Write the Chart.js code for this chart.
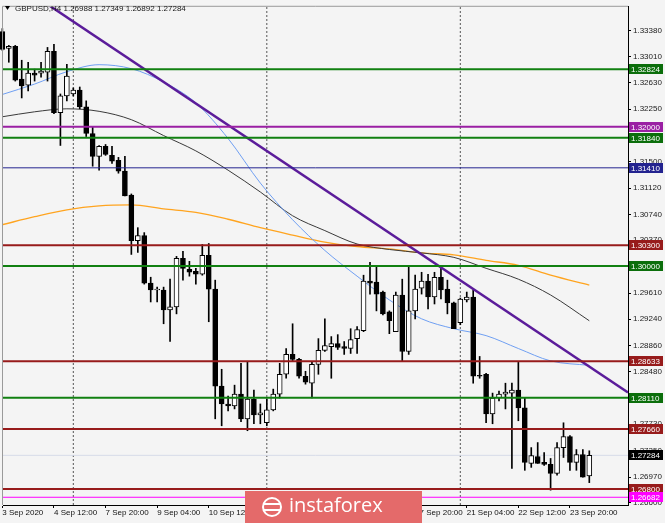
<!DOCTYPE html>
<html>
<head>
<meta charset="utf-8">
<script src="https://cdn.jsdelivr.net/npm/chart.js@4.4.1/dist/chart.umd.min.js"></script>
<style>
  html, body { margin: 0; padding: 0; background: #f4f4f4; }
  canvas { display: block; }
</style>
</head>
<body>
<canvas id="chart" width="665" height="523"></canvas>
<script>
// H4 bars, index 0 = 3 Sep 2020 04:00, last = 24 Sep 08:00
const opens = [
  1.33366, 1.33124, 1.33153, 1.32683, 1.32598, 1.32769, 1.32769, 1.32783, 1.33081, 1.32200,
  1.32442, 1.32470, 1.32527, 1.32285, 1.31902, 1.31575, 1.31717, 1.31589, 1.31518, 1.31362,
  1.31020, 1.30366, 1.30437, 1.29755, 1.29656, 1.29656, 1.29371, 1.29414, 1.30111, 1.29954,
  1.29926, 1.29883, 1.30153, 1.29670, 1.28277, 1.28021, 1.27993, 1.28163, 1.27808, 1.28092,
  1.27865, 1.27751, 1.27936, 1.28163, 1.28447, 1.28732, 1.28661, 1.28419, 1.28319, 1.28590,
  1.28789, 1.28845, 1.28888, 1.28845, 1.28817, 1.28959, 1.29073, 1.29784, 1.29769, 1.29627,
  1.29343, 1.29059, 1.29584, 1.28774, 1.29357, 1.29684, 1.29784, 1.29556, 1.29840, 1.29670,
  1.29471, 1.29186, 1.29513, 1.29556, 1.28433, 1.28447, 1.27879, 1.28106, 1.28163, 1.28177,
  1.28220, 1.27964, 1.27168, 1.27267, 1.27182, 1.27154, 1.27026, 1.27395, 1.27552, 1.27182,
  1.27296, 1.26988
];
const highs = [
  1.33408, 1.33167, 1.33167, 1.32954, 1.32925, 1.32826, 1.32925, 1.33138, 1.33181, 1.32470,
  1.32897, 1.32556, 1.32570, 1.32371, 1.32001, 1.31731, 1.31745, 1.31717, 1.31560, 1.31575,
  1.31035, 1.30551, 1.30480, 1.29840, 1.29698, 1.29698, 1.29812, 1.30139, 1.30210, 1.30068,
  1.29968, 1.30310, 1.30324, 1.29798, 1.28519, 1.28135, 1.28291, 1.28604, 1.28632, 1.28220,
  1.28021, 1.28092, 1.28234, 1.28604, 1.28817, 1.29172, 1.28675, 1.28490, 1.28632, 1.28959,
  1.29243, 1.28988, 1.29016, 1.28917, 1.29101, 1.29130, 1.29869, 1.30054, 1.30011, 1.29641,
  1.29357, 1.29627, 1.29812, 1.29983, 1.29869, 1.29911, 1.29883, 1.29911, 1.29982, 1.29798,
  1.29485, 1.29541, 1.29627, 1.29656, 1.28703, 1.28462, 1.28177, 1.28206, 1.28319, 1.28319,
  1.28618, 1.28106, 1.27395, 1.27467, 1.27324, 1.27239, 1.27467, 1.27751, 1.27566, 1.27367,
  1.27367, 1.27349
];
const lows = [
  1.33096, 1.32925, 1.32655, 1.32413, 1.32513, 1.32655, 1.32712, 1.32655, 1.32186, 1.31731,
  1.32371, 1.32442, 1.32257, 1.31859, 1.31433, 1.31376, 1.31589, 1.31475, 1.31333, 1.31006,
  1.30167, 1.30196, 1.29741, 1.29485, 1.29485, 1.29172, 1.28917, 1.29314, 1.29798, 1.29855,
  1.29741, 1.29869, 1.29201, 1.27808, 1.27708, 1.27922, 1.27950, 1.27766, 1.27637, 1.27737,
  1.27737, 1.27708, 1.27922, 1.28106, 1.28390, 1.28632, 1.28390, 1.28305, 1.28106, 1.28447,
  1.28774, 1.28390, 1.28803, 1.28732, 1.28746, 1.28746, 1.29059, 1.29598, 1.29357, 1.29300,
  1.29030, 1.29059, 1.28632, 1.28732, 1.29243, 1.29598, 1.29385, 1.29456, 1.29527, 1.29314,
  1.29101, 1.29158, 1.29485, 1.28319, 1.28390, 1.27751, 1.27737, 1.28064, 1.27950, 1.27097,
  1.27780, 1.27069, 1.27111, 1.27168, 1.27140, 1.26784, 1.26998, 1.27253, 1.27069, 1.27069,
  1.26969, 1.26892
];
const closes = [
  1.33110, 1.33153, 1.32669, 1.32584, 1.32769, 1.32740, 1.32797, 1.33081, 1.32200, 1.32442,
  1.32726, 1.32527, 1.32285, 1.31902, 1.31575, 1.31717, 1.31603, 1.31504, 1.31362, 1.31006,
  1.30366, 1.30437, 1.29755, 1.29656, 1.29670, 1.29371, 1.29414, 1.30111, 1.29968, 1.29911,
  1.29883, 1.30153, 1.29670, 1.28277, 1.28021, 1.27993, 1.28163, 1.27808, 1.28092, 1.27865,
  1.27893, 1.27936, 1.28163, 1.28447, 1.28732, 1.28661, 1.28419, 1.28334, 1.28590, 1.28789,
  1.28860, 1.28888, 1.28831, 1.28817, 1.28945, 1.29087, 1.29784, 1.29755, 1.29598, 1.29314,
  1.29215, 1.29584, 1.28774, 1.29357, 1.29670, 1.29784, 1.29556, 1.29840, 1.29656, 1.29471,
  1.29101, 1.29527, 1.29556, 1.28419, 1.28419, 1.27879, 1.28106, 1.28163, 1.28192, 1.28220,
  1.27964, 1.27182, 1.27282, 1.27168, 1.27154, 1.27026, 1.27395, 1.27552, 1.27182, 1.27296,
  1.26969, 1.27284
];

// moving averages, sampled at these bar indexes
const maIdx = [0, 5, 10, 15, 20, 25, 30, 35, 40, 45, 50, 55, 60, 65, 70, 75, 80, 85, 91];
const maBlue = [1.32463, 1.32612, 1.32790, 1.32890, 1.32833, 1.32641, 1.32342, 1.31831, 1.31191, 1.30665,
  1.30224, 1.29855, 1.29514, 1.29243, 1.29101, 1.29002, 1.28817, 1.28639, 1.28575];
const maBlack = [1.32143, 1.32214, 1.32257, 1.32221, 1.32101, 1.31873, 1.31653, 1.31376, 1.31063, 1.30722,
  1.30509, 1.30317, 1.30238, 1.30189, 1.30125, 1.29968, 1.29812, 1.29585, 1.29215];
const maOrange = [1.30594, 1.30708, 1.30807, 1.30864, 1.30878, 1.30821, 1.30772, 1.30672, 1.30551, 1.30445,
  1.30345, 1.30281, 1.30246, 1.30189, 1.30160, 1.30082, 1.30011, 1.29869, 1.29727];

// trend line end points (bar index, price)
const trendX = [0, 97.0];
const trendY = [1.34190, 1.28185];

// horizontal levels
const levelValues = [1.32824, 1.32000, 1.31840, 1.31410, 1.30300, 1.30000, 1.28633, 1.28110, 1.27660, 1.26800, 1.26682];
const levelColors = ['#118011', '#9a1fa3', '#118011', '#23238f', '#971b1b', '#118011', '#971b1b', '#118011', '#971b1b', '#971b1b', '#ff00ff'];
const levelWidths = [2, 2, 2, 1, 2, 2, 2, 2, 2, 2, 1];
const lastPrice = 1.27284;

// week separators (bar index of Monday 00:00)
const sepIdx = [11, 41, 71];

// axis ticks
const xLabelIdx = [0, 8, 16, 24, 32, 40, 48, 56, 64, 72, 80, 88];
const xLabels = ['3 Sep 2020', '4 Sep 12:00', '7 Sep 20:00', '9 Sep 04:00', '10 Sep 12:00', '11 Sep 20:00',
  '15 Sep 04:00', '16 Sep 12:00', '17 Sep 20:00', '21 Sep 04:00', '22 Sep 12:00', '23 Sep 20:00'];
const yTicks = [1.26600, 1.26970, 1.27350, 1.27730, 1.28110, 1.28480, 1.28860, 1.29240, 1.29610, 1.29990,
  1.30370, 1.30740, 1.31120, 1.31500, 1.31870, 1.32250, 1.32630, 1.33010, 1.33380];

const xMin = 0.1, xMax = 97.0;
const yMin = 1.26571, yMax = 1.33721;

const bodyColors = opens.map((o, i) => closes[i] >= o ? '#ffffff' : '#000000');

const datasets = [];

// levels and trend line on top
levelValues.forEach((v, k) => {
    datasets.push({
        type: 'line',
        data: [{ x: xMin, y: v }, { x: xMax, y: v }],
        borderColor: levelColors[k],
        borderWidth: levelWidths[k],
        pointRadius: 0,
        order: 0
    });
});
datasets.push({
    type: 'line',
    data: trendX.map((x, k) => ({ x: x, y: trendY[k] })),
    borderColor: '#5b1c9a',
    borderWidth: 2.5,
    pointRadius: 0,
    order: 0
});

// candles
datasets.push({
    type: 'bar',
    data: opens.map((o, i) => ({ x: i, y: [o, closes[i]] })),
    backgroundColor: bodyColors,
    borderColor: '#000000',
    borderWidth: 1,
    borderSkipped: false,
    barThickness: 5,
    minBarLength: 1,
    grouped: false,
    clip: false,
    order: 1
});
datasets.push({
    type: 'bar',
    data: lows.map((l, i) => ({ x: i, y: [l, highs[i]] })),
    backgroundColor: '#000000',
    borderWidth: 0,
    barThickness: 1,
    grouped: false,
    clip: false,
    order: 2
});

// moving averages
[[maBlue, '#6f9ff2', 1], [maBlack, '#3a3a3a', 1], [maOrange, '#ffa41f', 1.3]].forEach(([vals, col, w]) => {
    datasets.push({
        type: 'line',
        data: maIdx.map((x, k) => ({ x: x, y: vals[k] })),
        borderColor: col,
        borderWidth: w,
        pointRadius: 0,
        cubicInterpolationMode: 'monotone',
        order: 3
    });
});

// current price line and week separators
datasets.push({
    type: 'line',
    data: [{ x: xMin, y: lastPrice }, { x: xMax, y: lastPrice }],
    borderColor: '#d6dbe8',
    borderWidth: 1,
    pointRadius: 0,
    order: 4
});
sepIdx.forEach(s => {
    datasets.push({
        type: 'line',
        data: [{ x: s, y: yMin }, { x: s, y: yMax }],
        borderColor: '#555555',
        borderWidth: 1,
        borderDash: [2, 2],
        pointRadius: 0,
        order: 4
    });
});

const overlay = {
    id: 'overlay',
    beforeDraw(chart) {
        const ctx = chart.ctx;
        ctx.save();
        ctx.fillStyle = '#f4f4f4';
        ctx.fillRect(0, 0, chart.width, chart.height);
        ctx.restore();
    },
    afterDraw(chart) {
        const ctx = chart.ctx;
        const y = chart.scales.y;
        const area = chart.chartArea;
        ctx.save();

        // frame
        ctx.strokeStyle = '#9a9a9a';
        ctx.lineWidth = 1;
        ctx.beginPath();
        ctx.moveTo(area.left - 0.5, area.bottom);
        ctx.lineTo(area.left - 0.5, area.top - 0.5);
        ctx.lineTo(area.right, area.top - 0.5);
        ctx.stroke();

        // price boxes on the right axis
        ctx.font = '8px "Liberation Sans"';
        ctx.textBaseline = 'middle';
        ctx.textAlign = 'left';
        const boxes = levelValues.map((v, k) => [v, levelColors[k]]);
        boxes.push([lastPrice, '#000000']);
        boxes.forEach(([v, col]) => {
            const py = Math.round(y.getPixelForValue(v));
            ctx.fillStyle = col === '#118011' ? '#0b6e0b' : col;
            ctx.fillRect(area.right + 1, py - 5, 34, 10);
            ctx.fillStyle = '#ffffff';
            ctx.fillText(v.toFixed(5), area.right + 3, py + 0.5);
        });

        // title
        ctx.fillStyle = '#000000';
        ctx.beginPath();
        ctx.moveTo(5, 6);
        ctx.lineTo(10, 6);
        ctx.lineTo(7.5, 10);
        ctx.closePath();
        ctx.fill();
        ctx.fillStyle = '#1a1a1a';
        ctx.fillText('GBPUSD,H4 1.26988 1.27349 1.26892 1.27284', 15, 8.5);

        // watermark
        ctx.fillStyle = '#e46a6a';
        ctx.fillRect(245, 491, 177, 32);
        ctx.strokeStyle = '#ffffff';
        ctx.lineWidth = 2;
        ctx.beginPath();
        ctx.arc(272, 507, 9, 0, Math.PI * 2);
        ctx.stroke();
        ctx.beginPath();
        ctx.moveTo(264, 504); ctx.lineTo(280, 504);
        ctx.moveTo(264, 510); ctx.lineTo(280, 510);
        ctx.stroke();
        ctx.fillStyle = '#ffffff';
        ctx.font = '20px "Open Sans"';
        ctx.textBaseline = 'middle';
        ctx.fillText('instaforex', 289, 506);

        ctx.restore();
    }
};

new Chart(document.getElementById('chart'), {
    type: 'bar',
    data: { datasets: datasets },
    options: {
        responsive: false,
        animation: false,
        devicePixelRatio: 1,
        layout: { padding: { left: 3, top: 2, right: 0, bottom: 0 } },
        plugins: { legend: { display: false }, tooltip: { enabled: false } },
        scales: {
            x: {
                type: 'linear',
                min: xMin,
                max: xMax,
                offset: false,
                afterFit(scale) { scale.height = 18; },
                afterBuildTicks(scale) { scale.ticks = xLabelIdx.map(v => ({ value: v })); },
                grid: { drawOnChartArea: false, offset: false, tickLength: 3, color: '#000000' },
                border: { color: '#000000', width: 1 },
                ticks: {
                    autoSkip: false,
                    maxRotation: 0,
                    align: 'start',
                    padding: 0,
                    color: '#111111',
                    font: { family: 'Liberation Sans', size: 8 },
                    callback: (v, i) => xLabels[i]
                }
            },
            y: {
                type: 'linear',
                position: 'right',
                min: yMin,
                max: yMax,
                afterFit(scale) { scale.width = 37; },
                afterBuildTicks(scale) { scale.ticks = yTicks.map(v => ({ value: v })); },
                grid: { drawOnChartArea: false, tickLength: 3, color: '#000000' },
                border: { color: '#000000', width: 1 },
                ticks: {
                    padding: 2,
                    color: '#1a1a1a',
                    font: { family: 'Liberation Sans', size: 8 },
                    callback: v => v.toFixed(5)
                }
            }
        }
    },
    plugins: [overlay]
});
</script>
</body>
</html>
